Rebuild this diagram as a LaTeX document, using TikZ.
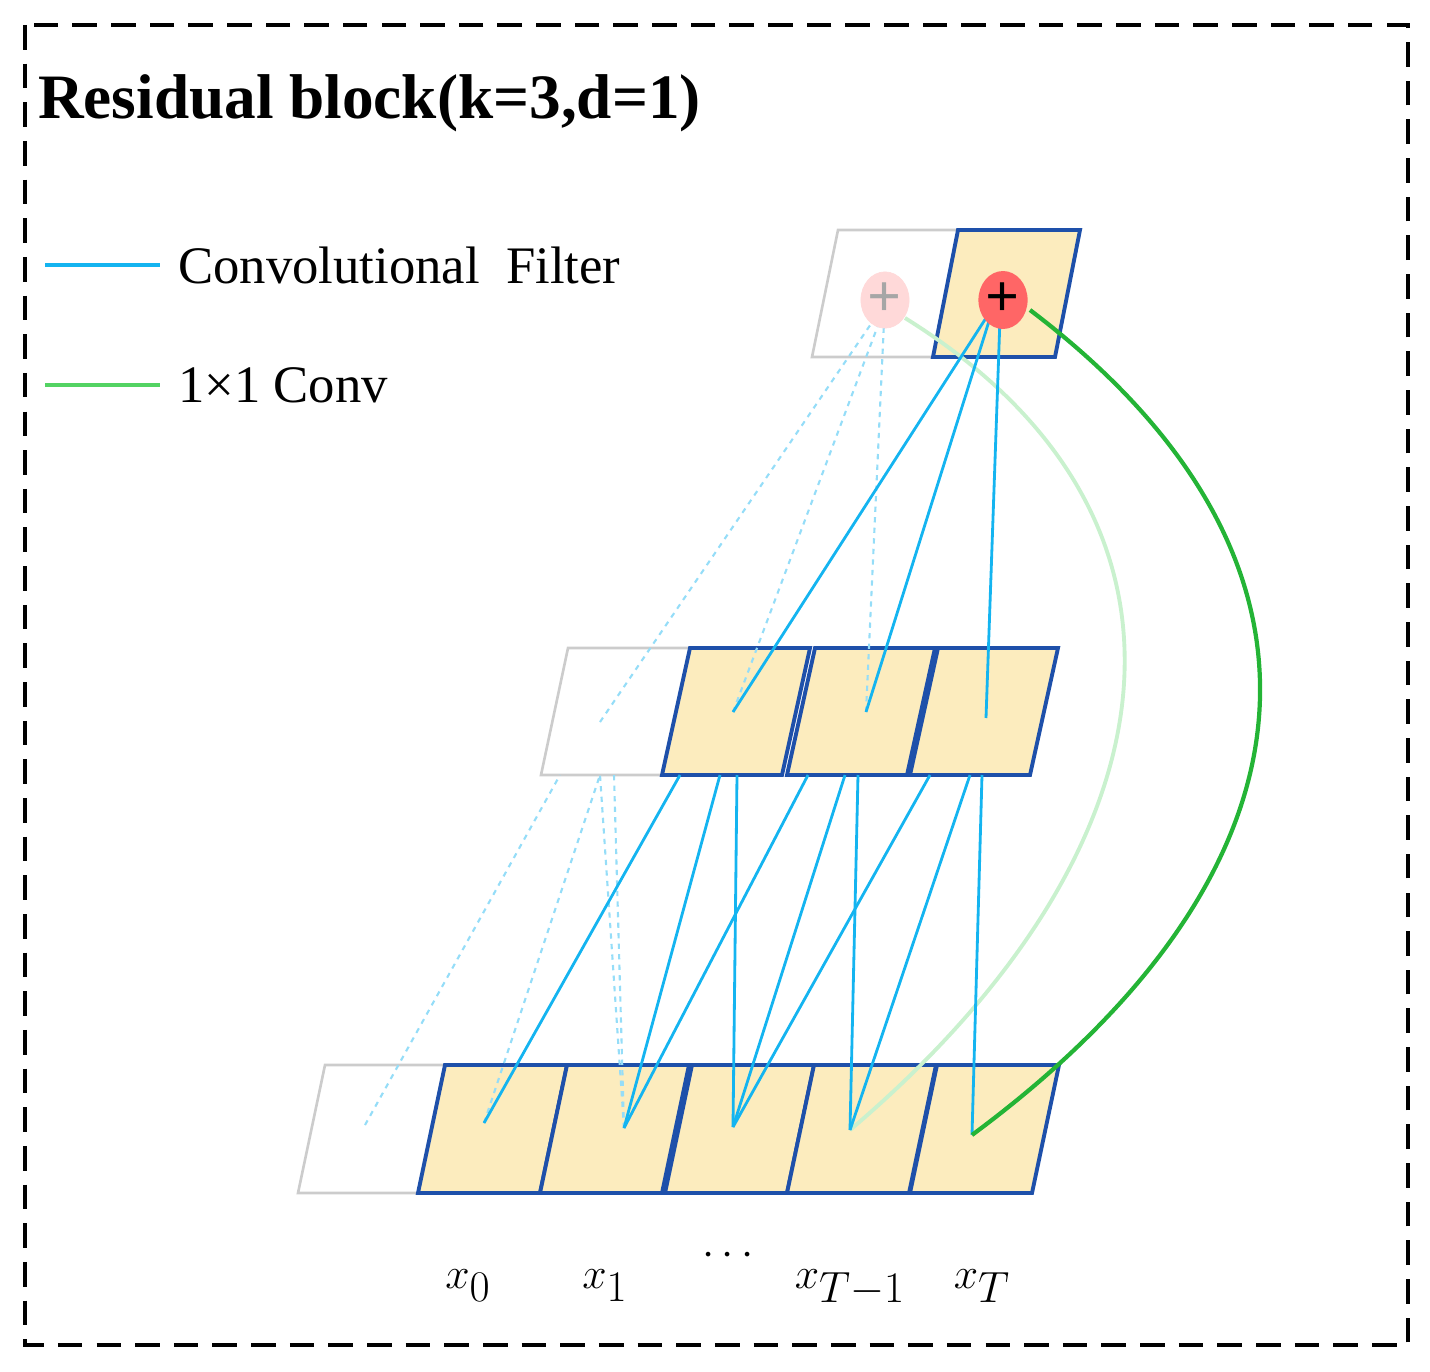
\documentclass[tikz,border=0pt]{standalone}
\usepackage{fontspec}
\setmainfont{Liberation Serif}
\usetikzlibrary{calc,shapes.geometric}
\definecolor{cellfill}{RGB}{252,236,190}
\definecolor{celledge}{RGB}{30,80,170}
\definecolor{filt}{RGB}{20,180,240}
\definecolor{gr}{RGB}{40,200,60}
\begin{document}
\begin{tikzpicture}[x=0.02cm,y=-0.02cm,
  cell/.style={draw=celledge,line width=2.2pt,fill=cellfill},
  ghost/.style={draw=black!20,line width=1.5pt,fill=white},
  f/.style={filt,line width=1.6pt},
  fd/.style={filt!45,line width=1.2pt,dashed},
  lbl/.style={font=\fontsize{55}{60}\selectfont,anchor=base}]
\useasboundingbox (0,0) rectangle (1430,1372);
\draw[dashed,line width=2pt,dash pattern=on 14pt off 8pt] (25,25) rectangle (1408,1345);
\node[anchor=base west,font=\fontsize{36}{40}\selectfont\bfseries] (title) at (32,118) {Residual block(k=3,d=1)};
\coordinate (l1a) at (45,265); \coordinate (l1b) at (160,265);
\draw[f,line width=2pt] (l1a) -- (l1b);
\node[anchor=west,font=\fontsize{30}{34}\selectfont] (t1) at (172,265) {Convolutional\ \ Filter};
\coordinate (l2a) at (45,385); \coordinate (l2b) at (160,385);
\draw[gr!80,line width=2pt] (l2a) -- (l2b);
\node[anchor=west,font=\fontsize{30}{34}\selectfont] (t2) at (172,385) {1×1 Conv};
% bottom row
\draw[ghost] (298,1193) -- (325,1065) -- (445,1065) -- (418,1193) -- cycle;
\foreach \a in {418,540,665,787,910}{
  \draw[cell] (\a,1193) -- ($(\a,1065)+(27,0)$) -- ($(\a,1065)+(149,0)$) -- ($(\a,1193)+(122,0)$) -- cycle;}
% middle row
\draw[ghost] (541,775) -- (568,648) -- (690,648) -- (662,775) -- cycle;
\foreach \a in {662,787,910}{
  \draw[cell] (\a,775) -- ($(\a,648)+(28,0)$) -- ($(\a,648)+(148,0)$) -- ($(\a,775)+(120,0)$) -- cycle;}
% top row
\draw[ghost] (812,357) -- (838,230) -- (958,230) -- (933,357) -- cycle;
\draw[cell] (933,357) -- (958,230) -- (1080,230) -- (1055,357) -- cycle;
% points
\coordinate (bw) at (365,1125); \coordinate (b0) at (484,1123); \coordinate (b1) at (624,1128);
\coordinate (b2) at (733,1127); \coordinate (b3) at (850,1130); \coordinate (b4) at (972,1135);
\coordinate (mw) at (600,722); \coordinate (m2) at (733,712); \coordinate (m3) at (866,712); \coordinate (m4) at (986,718);
% dashed
\draw[fd] (bw) -- (560,775); \draw[fd] (b0) -- (600,775); \draw[fd] (b1) -- (600,775); \draw[fd] (b1) -- (614,775);
\draw[fd] (mw) -- (875,318); \draw[fd] (m2) -- (880,320); \draw[fd] (m3) -- (884,322);
% light green
\draw[gr!25,line width=2.2pt] (b3) .. controls (1180,850) and (1230,520) .. (905,318);
% solid filters
\draw[f] (b0) -- (680,775); \draw[f] (b1) -- (720,775); \draw[f] (b2) -- (737,775);
\draw[f] (b1) -- (808,775); \draw[f] (b2) -- (845,775); \draw[f] (b3) -- (858,775);
\draw[f] (b2) -- (930,775); \draw[f] (b3) -- (970,775); \draw[f] (b4) -- (982,775);
\draw[f] (m2) -- (986,318); \draw[f] (m3) -- (990,318); \draw[f] (m4) -- (1000,318);
% green
\draw[gr!90!black,line width=2.4pt] (b4) .. controls (1330,870) and (1360,560) .. (1030,310);
% circles
\node[ellipse,draw=red!15,fill=red!15,minimum width=27pt,minimum height=32pt,inner sep=0,font=\fontsize{34}{34}\selectfont\bfseries,text=black!35] (cg) at (885,300) {+};
\node[ellipse,fill=red!60,minimum width=28pt,minimum height=33pt,inner sep=0,font=\fontsize{34}{34}\selectfont\bfseries] (cr) at (1003,300) {+};
% labels
\node[lbl] (x0) at (468,1288) {$x_0$};
\node[lbl] (x1) at (605,1288) {$x_1$};
\node[lbl] (dots) at (728,1265) {$\cdots$};
\node[lbl] (xt1) at (850,1288) {$x_{T-1}$};
\node[lbl] (xt) at (982,1288) {$x_T$};
\end{tikzpicture}
\end{document}
